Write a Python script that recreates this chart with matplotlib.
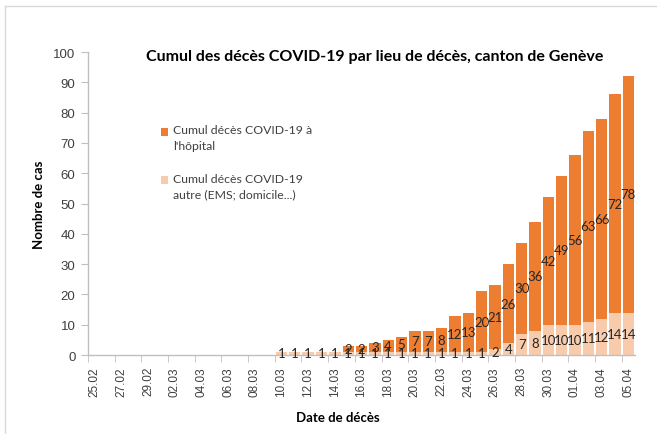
import matplotlib
matplotlib.use("Agg")
import matplotlib.pyplot as plt
import numpy as np
from matplotlib.lines import Line2D
from matplotlib.patches import Patch

dates = ["25.02", "26.02", "27.02", "28.02", "29.02",
         "01.03", "02.03", "03.03", "04.03", "05.03", "06.03", "07.03", "08.03", "09.03",
         "10.03", "11.03", "12.03", "13.03", "14.03", "15.03", "16.03", "17.03", "18.03",
         "19.03", "20.03", "21.03", "22.03", "23.03", "24.03", "25.03", "26.03", "27.03",
         "28.03", "29.03", "30.03", "31.03", "01.04", "02.04", "03.04", "04.04", "05.04"]
autre = [0, 0, 0, 0, 0,
         0, 0, 0, 0, 0, 0, 0, 0, 0,
         1, 1, 1, 1, 1, 1, 1, 1, 1,
         1, 1, 1, 1, 1, 1, 1, 2, 4,
         7, 8, 10, 10, 10, 11, 12, 14, 14]
hopital = [0, 0, 0, 0, 0,
           0, 0, 0, 0, 0, 0, 0, 0, 0,
           0, 0, 0, 0, 0, 2, 2, 3, 4,
           5, 7, 7, 8, 12, 13, 20, 21, 26,
           30, 36, 42, 49, 56, 63, 66, 72, 78]

C_HOP = "#ED7D31"
C_AUT = "#F8CBAD"
GRID = "#BFBFBF"
TXT = "#404040"

fig = plt.figure(figsize=(6.57, 4.35), dpi=100)
ax = fig.add_axes([0.134, 0.1816, 0.8325, 0.6964])

x = np.arange(len(dates))
autre_a = np.array(autre)
hop_a = np.array(hopital)
w = 0.85
ax.bar(x, autre_a, width=w, color=C_AUT, zorder=2)
ax.bar(x, hop_a, width=w, bottom=autre_a, color=C_HOP, zorder=2)

lab_font = dict(family=["Lato", "DejaVu Sans"], fontsize=9.5, color="#262626",
                ha="center", va="center", zorder=3)
for i in range(len(dates)):
    if autre_a[i] > 0:
        ax.text(x[i], autre_a[i] / 2, str(autre_a[i]), **lab_font)
    if hop_a[i] > 0:
        ax.text(x[i], autre_a[i] + hop_a[i] / 2, str(hop_a[i]), **lab_font)

ax.set_xlim(-0.5, len(dates) - 0.5)
ax.set_ylim(0, 100)
ax.set_yticks(np.arange(0, 101, 10))
ax.tick_params(axis="y", length=5, color=GRID, labelsize=9.5, labelcolor=TXT, pad=4)
for lbl in ax.get_yticklabels():
    lbl.set_fontfamily("Liberation Sans")

ax.set_xticks(x[::2])
ax.set_xticklabels(dates[::2], rotation=90, fontsize=8.5, color=TXT,
                   fontfamily="Liberation Sans")
ax.tick_params(axis="x", which="major", length=0, pad=8)
ax.set_xticks(np.arange(-0.5, len(dates), 2), minor=True)
ax.tick_params(axis="x", which="minor", length=5, color=GRID)

for s in ["top", "right"]:
    ax.spines[s].set_visible(False)
for s in ["left", "bottom"]:
    ax.spines[s].set_color(GRID)
    ax.spines[s].set_linewidth(1.0)

ax.set_ylabel("Nombre de cas", fontsize=9.5, fontweight="bold",
              fontfamily=["Lato", "DejaVu Sans"], labelpad=6)
ax.set_xlabel("Date de décès", fontsize=9.5, fontweight="bold",
              fontfamily=["Lato", "DejaVu Sans"], labelpad=10)
ax.xaxis.set_label_coords(0.457, -0.185)

fig.text(0.571, 0.869, "Cumul des décès COVID-19 par lieu de décès, canton de Genève",
         ha="center", va="center", fontsize=11.5, fontweight="bold",
         family=["Lato", "DejaVu Sans"], color="#000000")

handles = [Patch(facecolor=C_HOP), Patch(facecolor=C_AUT)]
labels = ["Cumul décès COVID-19 à\nl'hôpital", "Cumul décès COVID-19\nautre (EMS; domicile...)"]
leg = fig.legend(handles, labels, loc="upper left", bbox_to_anchor=(0.228, 0.737),
                 frameon=False, handlelength=0.6, handleheight=0.6, handletextpad=0.4,
                 labelspacing=1.75, prop={"family": ["Lato", "DejaVu Sans"], "size": 8.8})
for t in leg.get_texts():
    t.set_color(TXT)
    t.set_linespacing(1.55)
for h in leg.legend_handles:
    h.set_y(h.get_y() + 4.5)

# outer chart border (left and top visible)
fig.add_artist(Line2D([0.008, 0.008], [0.0, 0.985], color="#D9D9D9", lw=1.0,
                      transform=fig.transFigure))
fig.add_artist(Line2D([0.008, 1.0], [0.985, 0.985], color="#D9D9D9", lw=1.0,
                      transform=fig.transFigure))

fig.savefig("out.png", dpi=100)
